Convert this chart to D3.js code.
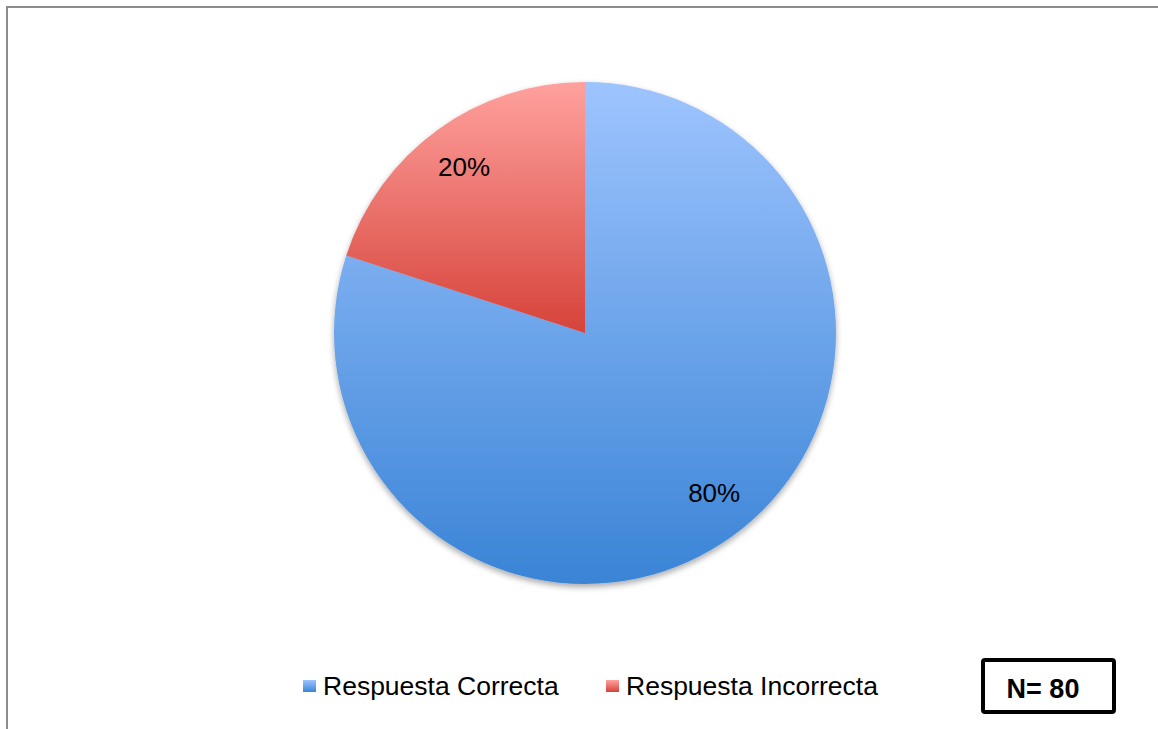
<!DOCTYPE html>
<html><head><meta charset="utf-8">
<script src="https://cdn.jsdelivr.net/npm/d3@7"></script>
<style>html,body{margin:0;padding:0;background:#fff;overflow:hidden}</style>
</head><body>
<svg id="c" width="1158" height="729"></svg>
<script>
const categories = ["Respuesta Correcta", "Respuesta Incorrecta"];
const values = [80, 20];
const labels = ["80%", "20%"];
const nLabel = "N= 80";
const colorsTop = ["#9ec4fe", "#ffa19d"];
const colorsBottom = ["#3a84d6", "#d6433a"];

const svg = d3.select("#c");
const defs = svg.append("defs");
categories.forEach((c, i) => {
  const g = defs.append("linearGradient").attr("id", "g" + i)
    .attr("x1", 0).attr("y1", 0).attr("x2", 0).attr("y2", 1);
  g.append("stop").attr("offset", "0%").attr("stop-color", colorsTop[i]);
  g.append("stop").attr("offset", "100%").attr("stop-color", colorsBottom[i]);
});
const f = defs.append("filter").attr("id", "sh").attr("x", "-10%").attr("y", "-10%").attr("width", "120%").attr("height", "125%");
f.append("feGaussianBlur").attr("in", "SourceAlpha").attr("stdDeviation", 3).attr("result", "b");
f.append("feOffset").attr("in", "b").attr("dy", 3).attr("result", "o");
f.append("feComponentTransfer").attr("in", "o").attr("result", "o2")
  .append("feFuncA").attr("type", "linear").attr("slope", 0.35);
const fm = f.append("feMerge");
fm.append("feMergeNode").attr("in", "o2");
fm.append("feMergeNode").attr("in", "SourceGraphic");

// frame
svg.append("path").attr("d", "M7,729 L7,7 L1158,7").attr("fill", "none")
  .attr("stroke", "#8c8c8c").attr("stroke-width", 2);

const cx = 585, cy = 333, r = 251;
const pie = d3.pie().sort(null).value(d => d)(values);
const arc = d3.arc().innerRadius(0).outerRadius(r);
const g = svg.append("g").attr("transform", `translate(${cx},${cy})`).attr("filter", "url(#sh)");
g.selectAll("path").data(pie).join("path")
  .attr("d", arc).attr("fill", (d, i) => `url(#g${i})`);

const labArc = d3.arc().innerRadius(r * 0.82).outerRadius(r * 0.82);
svg.append("g").attr("transform", `translate(${cx},${cy})`)
  .selectAll("text").data(pie).join("text")
  .attr("transform", (d, i) => {
    const p = labArc.centroid({startAngle: d.startAngle, endAngle: d.endAngle - (i === 0 ? 0.1 : 0)});
    return `translate(${p[0]},${p[1]})`;
  })
  .attr("text-anchor", "middle").attr("dy", "0.35em")
  .attr("font-family", "Liberation Sans, Arial, sans-serif").attr("font-size", 26)
  .attr("fill", "#000").text((d, i) => labels[i]);

// legend
const legX = [303, 606];
const lg = svg.append("g");
categories.forEach((c, i) => {
  lg.append("rect").attr("x", legX[i]).attr("y", 680).attr("width", 13).attr("height", 12)
    .attr("fill", `url(#g${i})`);
  lg.append("text").attr("x", legX[i] + 20).attr("y", 695)
    .attr("font-family", "Liberation Sans, Arial, sans-serif").attr("font-size", 26.5)
    .attr("fill", "#000").text(c);
});

// N box
svg.append("rect").attr("x", 983).attr("y", 660).attr("width", 131).attr("height", 52)
  .attr("rx", 2).attr("fill", "#fff").attr("stroke", "#000").attr("stroke-width", 4);
svg.append("text").attr("x", 1043).attr("y", 698).attr("text-anchor", "middle")
  .attr("font-family", "Liberation Sans, Arial, sans-serif").attr("font-weight", "bold")
  .attr("font-size", 27).attr("fill", "#000").text(nLabel);
</script>
</body></html>
